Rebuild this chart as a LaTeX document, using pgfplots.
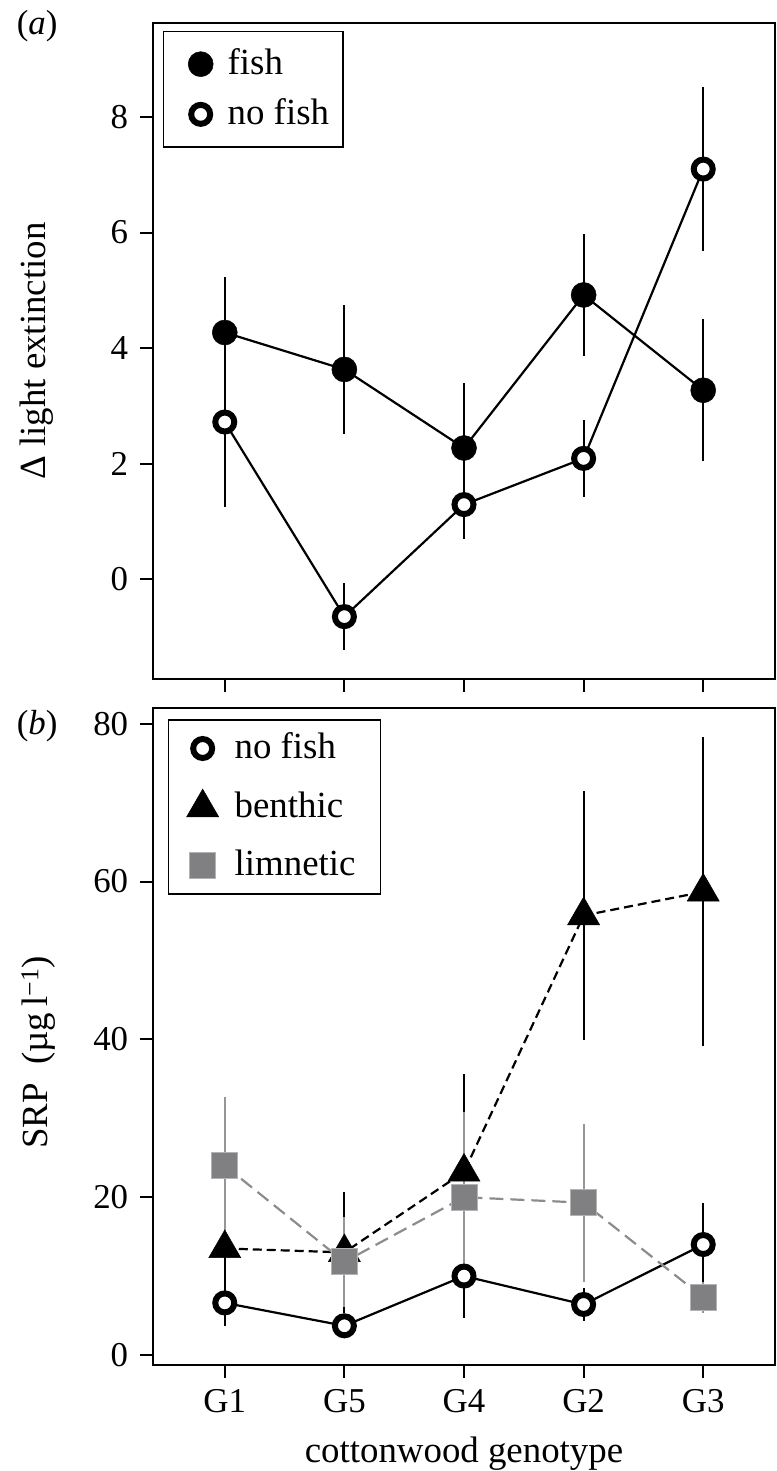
\documentclass[border=0pt]{standalone}
\usepackage{fontspec}
\setmainfont{Liberation Serif}
\usepackage{pgfplots}
\pgfplotsset{compat=1.18}
\usepackage{pgfplotstable}

\definecolor{sqgray}{RGB}{128,128,131}
\definecolor{limline}{RGB}{140,140,140}
\definecolor{limerr}{RGB}{150,150,150}

\pgfplotstableread{
x y e
0 4.27 0.96
1 3.63 1.12
2 2.27 1.13
3 4.92 1.06
4 3.27 1.23
}\topfish
\pgfplotstableread{
x y e
0 2.72 1.47
1 -0.65 0.58
2 1.29 0.59
3 2.09 0.66
4 7.10 1.42
}\topnofish
\pgfplotstableread{
x y e
0 6.6 2.9
1 3.7 1.5
2 10.0 5.3
3 6.4 2.1
4 14.0 5.3
}\botnofish
\pgfplotstableread{
x y e
0 13.5 5.5
1 13.0 7.7
2 23.2 12.4
3 55.7 15.8
4 58.7 19.6
}\benthic
\pgfplotstableread{
x y e
0 24.0 8.7
1 11.8 5.7
2 20.0 10.8
3 19.3 10.0
4 7.3 2.0
}\limnetic

\pgfplotsset{
  common/.style={
    scale only axis, width=622bp,
    xmin=-0.6, xmax=4.6, xtick={0,1,2,3,4},
    tick align=outside, xtick pos=left, ytick pos=left,
    axis line style={line width=2.5bp},
    major tick length=13bp,
    major tick style={line width=2bp, black},
    tick label style={font=\fontsize{35}{42}\selectfont},
    label style={font=\fontsize{37}{44}\selectfont},
    /pgf/number format/assume math mode=true,
    clip=false,
    legend cell align=left,
  },
  ebar/.style={only marks, mark=none, forget plot,
    error bars/.cd, y dir=both, y explicit, error mark=none,
    error bar style={line width=2bp, draw=#1, solid}},
  nofishmark/.style={mark=*, mark size=9.5bp, mark options={fill=white, draw=black, line width=6bp, solid}},
  fishmark/.style={mark=*, mark size=12.5bp, mark options={fill=black, draw=black, line width=0.5bp, solid}},
  benmark/.style={mark=triangle*, mark size=18.5bp, mark options={fill=black, draw=black, line width=0.5bp, solid}},
  limmark/.style={mark=square*, mark size=13bp, mark options={fill=sqgray, draw=sqgray!60!white, line width=1bp, solid}},
}

\begin{document}
\fontsize{35}{42}\selectfont
\begin{tikzpicture}
\path[use as bounding box] (-153bp,-106bp) rectangle (624bp,1365bp);

% ---------- panel (a)
\begin{axis}[common, at={(0bp,686bp)}, anchor=south west, height=656bp,
  ymin=-1.73, ymax=9.63, ytick={0,2,4,6,8}, xticklabels={},
  ylabel={Δ light extinction},
  ylabel style={at={(axis description cs:-0.1736,0.5)}, anchor=base},
  legend image code/.code={\path[draw=none,fill=none] (0bp,0bp) -- (50bp,0bp); \draw[#1] plot coordinates {(25bp,0bp)};},
  legend style={at={(axis description cs:0.016,0.988)}, anchor=north west,
    draw=black, line width=1.5bp, fill=white,
    font=\fontsize{37}{44}\selectfont,
    inner xsep=12bp, inner ysep=15bp, row sep=15bp},
]
\addplot[ebar=black] table[x=x, y=y, y error=e] {\topfish};
\addplot[ebar=black] table[x=x, y=y, y error=e] {\topnofish};
\addplot[black, line width=2.2bp, fishmark, forget plot] table[x=x, y=y] {\topfish};
\addplot[black, line width=2.2bp, nofishmark, forget plot] table[x=x, y=y] {\topnofish};
\addlegendimage{only marks, fishmark}
\addlegendentry{fish}
\addlegendimage{only marks, nofishmark}
\addlegendentry{no fish}
\node[anchor=base west, font=\fontsize{35}{42}\selectfont] at (axis description cs:-0.238,0.982) {(\textit{a})};
\end{axis}

% ---------- panel (b)
\begin{axis}[common, at={(0bp,0bp)}, anchor=south west, height=657bp,
  ymin=-1.27, ymax=82.0, ytick={0,20,40,60,80},
  xticklabels={G1,G5,G4,G2,G3},
  xlabel={cottonwood genotype},
  xlabel style={at={(axis description cs:0.5,-0.149)}, anchor=base},
  ylabel={SRP\ \ (µg\,l\textsuperscript{−1})},
  ylabel style={at={(axis description cs:-0.170,0.476)}, anchor=base},
  legend image code/.code={\path[draw=none,fill=none] (0bp,0bp) -- (55bp,0bp); \draw[#1] plot coordinates {(25bp,0bp)};},
  legend style={at={(axis description cs:0.024,0.983)}, anchor=north west,
    draw=black, line width=1.5bp, fill=white,
    font=\fontsize{37}{44}\selectfont,
    inner xsep=9bp, inner ysep=11bp, row sep=23bp},
]
\addplot[ebar=black] table[x=x, y=y, y error=e] {\botnofish};
\addplot[ebar=black] table[x=x, y=y, y error=e] {\benthic};
\addplot[ebar=limerr] table[x=x, y=y, y error=e] {\limnetic};
\addplot[black, line width=2.2bp, nofishmark, forget plot] table[x=x, y=y] {\botnofish};
\addplot[black, line width=2.2bp, dash pattern=on 9bp off 5bp, benmark, forget plot] table[x=x, y=y] {\benthic};
\addplot[limline, line width=2.2bp, dash pattern=on 14bp off 7bp, limmark, forget plot] table[x=x, y=y] {\limnetic};
\addlegendimage{only marks, nofishmark}
\addlegendentry{no fish}
\addlegendimage{only marks, benmark}
\addlegendentry{benthic}
\addlegendimage{only marks, limmark}
\addlegendentry{limnetic\hspace*{14bp}}
\node[anchor=base west, font=\fontsize{35}{42}\selectfont] at (axis description cs:-0.238,0.960) {(\textit{b})};
\end{axis}
\end{tikzpicture}
\end{document}
